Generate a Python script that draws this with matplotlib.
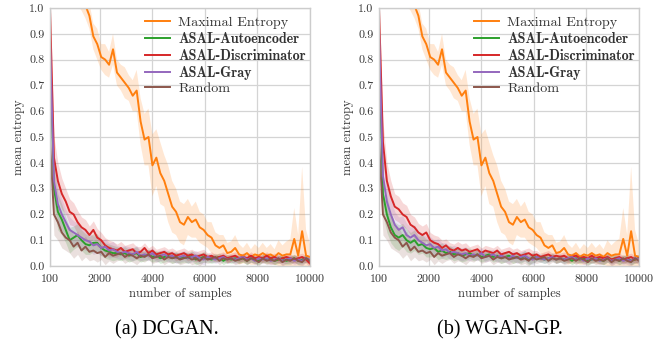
import numpy as np
import matplotlib
matplotlib.use("Agg")
import matplotlib.pyplot as plt

# sample grid: 100, 250, ..., 10000
samples = np.arange(100, 10001, 150)

max_entropy = [1.45, 1.38, 1.32, 1.25, 1.20, 1.15, 1.10, 1.06, 1.04, 1.01,
               0.97, 0.89, 0.86, 0.81, 0.80, 0.78, 0.84, 0.75, 0.73, 0.71,
               0.69, 0.66, 0.68, 0.56, 0.49, 0.50, 0.39, 0.42, 0.36, 0.33,
               0.28, 0.23, 0.21, 0.17, 0.16, 0.19, 0.17, 0.18, 0.15, 0.14,
               0.12, 0.11, 0.08, 0.07, 0.08, 0.05, 0.055, 0.07, 0.045, 0.04,
               0.05, 0.035, 0.045, 0.04, 0.05, 0.04, 0.045, 0.035, 0.05, 0.04,
               0.045, 0.045, 0.105, 0.04, 0.135, 0.04, 0.035]
max_entropy_sd = [0.05, 0.05, 0.05, 0.05, 0.05, 0.05, 0.05, 0.05, 0.05, 0.05,
                  0.05, 0.05, 0.06, 0.05, 0.06, 0.05, 0.06, 0.05, 0.05, 0.06,
                  0.05, 0.06, 0.08, 0.09, 0.10, 0.11, 0.12, 0.11, 0.12, 0.10,
                  0.11, 0.10, 0.09, 0.08, 0.08, 0.07, 0.06, 0.07, 0.06, 0.06,
                  0.05, 0.06, 0.05, 0.05, 0.04, 0.04, 0.04, 0.05, 0.04, 0.03,
                  0.04, 0.03, 0.04, 0.03, 0.04, 0.03, 0.04, 0.03, 0.05, 0.04,
                  0.05, 0.06, 0.12, 0.08, 0.25, 0.10, 0.05]
random_sel = [0.48, 0.20, 0.17, 0.13, 0.11, 0.10, 0.075, 0.09, 0.06, 0.075,
              0.055, 0.06, 0.05, 0.055, 0.035, 0.05, 0.04, 0.045, 0.05, 0.035,
              0.045, 0.04, 0.03, 0.04, 0.035, 0.045, 0.03, 0.035, 0.04, 0.025,
              0.035, 0.03, 0.035, 0.025, 0.03, 0.035, 0.025, 0.03, 0.02, 0.035,
              0.025, 0.03, 0.035, 0.02, 0.03, 0.025, 0.03, 0.02, 0.025, 0.03,
              0.02, 0.03, 0.025, 0.015, 0.03, 0.02, 0.025, 0.02, 0.03, 0.015,
              0.025, 0.02, 0.03, 0.02, 0.015, 0.03, 0.02]
low_sd = [0.06, 0.08, 0.07, 0.06, 0.05, 0.05, 0.045, 0.045, 0.04, 0.04,
          0.035, 0.035, 0.035, 0.03, 0.03, 0.03, 0.03, 0.025, 0.025, 0.025,
          0.025, 0.025, 0.025, 0.02, 0.02, 0.02, 0.02, 0.02, 0.02, 0.02,
          0.02, 0.02, 0.02, 0.02, 0.02, 0.02, 0.02, 0.02, 0.02, 0.02,
          0.015, 0.015, 0.015, 0.015, 0.015, 0.015, 0.015, 0.015, 0.015, 0.015,
          0.015, 0.015, 0.015, 0.015, 0.015, 0.015, 0.015, 0.015, 0.015, 0.015,
          0.015, 0.015, 0.015, 0.015, 0.015, 0.015, 0.015]

dcgan_ae = [0.85, 0.30, 0.21, 0.18, 0.14, 0.10, 0.11, 0.12, 0.10, 0.085,
            0.08, 0.09, 0.09, 0.07, 0.06, 0.055, 0.05, 0.05, 0.045, 0.05,
            0.04, 0.045, 0.05, 0.035, 0.04, 0.045, 0.035, 0.04, 0.03, 0.035,
            0.04, 0.03, 0.035, 0.03, 0.035, 0.03, 0.04, 0.025, 0.03, 0.035,
            0.03, 0.025, 0.03, 0.035, 0.02, 0.03, 0.025, 0.03, 0.025, 0.03,
            0.02, 0.03, 0.025, 0.02, 0.03, 0.025, 0.03, 0.02, 0.025, 0.03,
            0.02, 0.025, 0.03, 0.02, 0.025, 0.03, 0.02]
dcgan_disc = [1.00, 0.42, 0.33, 0.28, 0.25, 0.21, 0.20, 0.17, 0.15, 0.14,
              0.12, 0.14, 0.11, 0.10, 0.08, 0.07, 0.065, 0.06, 0.07, 0.055,
              0.06, 0.065, 0.05, 0.055, 0.07, 0.05, 0.06, 0.045, 0.05, 0.055,
              0.045, 0.05, 0.04, 0.045, 0.05, 0.04, 0.045, 0.035, 0.04, 0.045,
              0.035, 0.04, 0.03, 0.035, 0.04, 0.03, 0.035, 0.04, 0.03, 0.035,
              0.03, 0.04, 0.03, 0.035, 0.03, 0.04, 0.03, 0.035, 0.025, 0.03,
              0.035, 0.03, 0.025, 0.03, 0.035, 0.025, 0.01]
dcgan_gray = [0.87, 0.33, 0.24, 0.20, 0.17, 0.14, 0.13, 0.12, 0.11, 0.10,
              0.095, 0.08, 0.085, 0.07, 0.075, 0.06, 0.065, 0.055, 0.05, 0.055,
              0.05, 0.045, 0.055, 0.04, 0.045, 0.04, 0.05, 0.035, 0.04, 0.045,
              0.035, 0.04, 0.03, 0.035, 0.04, 0.03, 0.035, 0.04, 0.03, 0.025,
              0.035, 0.03, 0.025, 0.03, 0.035, 0.025, 0.03, 0.025, 0.03, 0.035,
              0.025, 0.03, 0.02, 0.03, 0.025, 0.03, 0.02, 0.025, 0.03, 0.02,
              0.025, 0.03, 0.02, 0.025, 0.02, 0.03, 0.025]

wgan_ae = [0.85, 0.28, 0.20, 0.15, 0.12, 0.11, 0.12, 0.10, 0.09, 0.10,
           0.08, 0.085, 0.07, 0.065, 0.07, 0.055, 0.06, 0.05, 0.055, 0.045,
           0.05, 0.04, 0.045, 0.05, 0.04, 0.045, 0.035, 0.04, 0.045, 0.035,
           0.04, 0.03, 0.035, 0.04, 0.03, 0.035, 0.03, 0.04, 0.025, 0.03,
           0.035, 0.03, 0.025, 0.03, 0.035, 0.025, 0.03, 0.025, 0.03, 0.02,
           0.03, 0.025, 0.03, 0.02, 0.025, 0.03, 0.025, 0.02, 0.03, 0.025,
           0.03, 0.02, 0.025, 0.03, 0.02, 0.025, 0.03]
wgan_disc = [1.00, 0.48, 0.33, 0.27, 0.23, 0.22, 0.20, 0.19, 0.16, 0.15,
             0.13, 0.12, 0.13, 0.10, 0.09, 0.085, 0.07, 0.08, 0.065, 0.06,
             0.07, 0.06, 0.065, 0.055, 0.06, 0.065, 0.05, 0.06, 0.055, 0.05,
             0.06, 0.045, 0.05, 0.055, 0.045, 0.05, 0.04, 0.045, 0.05, 0.04,
             0.045, 0.035, 0.04, 0.045, 0.035, 0.04, 0.035, 0.04, 0.03, 0.035,
             0.04, 0.03, 0.035, 0.03, 0.04, 0.03, 0.035, 0.03, 0.035, 0.025,
             0.03, 0.035, 0.025, 0.03, 0.035, 0.025, 0.03]
wgan_gray = [0.91, 0.35, 0.25, 0.20, 0.16, 0.14, 0.15, 0.12, 0.11, 0.12,
             0.10, 0.09, 0.08, 0.085, 0.07, 0.075, 0.06, 0.065, 0.05, 0.055,
             0.05, 0.045, 0.05, 0.04, 0.045, 0.04, 0.05, 0.035, 0.04, 0.045,
             0.035, 0.04, 0.035, 0.03, 0.04, 0.03, 0.035, 0.04, 0.03, 0.025,
             0.035, 0.03, 0.025, 0.03, 0.035, 0.025, 0.03, 0.025, 0.03, 0.035,
             0.025, 0.03, 0.02, 0.03, 0.025, 0.03, 0.02, 0.025, 0.03, 0.02,
             0.025, 0.03, 0.02, 0.025, 0.02, 0.03, 0.025]

x_ticks = [100, 2000, 4000, 6000, 8000, 10000]
y_ticks = [0.0, 0.1, 0.2, 0.3, 0.4, 0.5, 0.6, 0.7, 0.8, 0.9, 1.0]
captions = ["(a) DCGAN.", "(b) WGAN-GP."]

plt.rcParams['font.family'] = 'cmr10'
plt.rcParams['axes.formatter.use_mathtext'] = True
plt.rcParams['axes.unicode_minus'] = False

colors = {'max': '#ff7f0e', 'ae': '#2ca02c', 'disc': '#d62728',
          'gray': '#9467bd', 'rand': '#8c564b'}


def draw_panel(ax, ae, disc, gray):
    series = [
        ("Maximal Entropy", max_entropy, max_entropy_sd, colors['max'], False),
        ("ASAL-Autoencoder", ae, low_sd, colors['ae'], True),
        ("ASAL-Discriminator", disc, low_sd, colors['disc'], True),
        ("ASAL-Gray", gray, low_sd, colors['gray'], True),
        ("Random", random_sel, low_sd, colors['rand'], False),
    ]
    for label, vals, sd, col, bold in series:
        v = np.array(vals)
        s = np.array(sd)
        ax.fill_between(samples, v - s, v + s, color=col, alpha=0.18, lw=0)
    for label, vals, sd, col, bold in series:
        ax.plot(samples, vals, color=col, lw=1.4, label=label)
    ax.set_xlim(100, 10000)
    ax.set_ylim(0, 1)
    ax.set_xticks(x_ticks)
    ax.set_yticks(y_ticks)
    ax.set_yticklabels([f"{t:.1f}" for t in y_ticks])
    ax.tick_params(labelsize=8.6, colors='#333333', length=0, pad=4)
    ax.grid(True, color='#d4d4d4', lw=0.9)
    ax.set_axisbelow(True)
    for sp in ax.spines.values():
        sp.set_color('#cccccc')
        sp.set_linewidth(1.0)
    ax.set_xlabel("number of samples", fontsize=9, color='#333333', labelpad=3)
    ax.set_ylabel("mean entropy", fontsize=9, color='#333333', labelpad=3)
    leg = ax.legend(loc='upper left', frameon=False, fontsize=10.2,
                    handlelength=1.8, handletextpad=0.55, labelspacing=0.2,
                    borderpad=0.4, borderaxespad=0,
                    bbox_to_anchor=(0.343, 0.99))
    for txt, s in zip(leg.get_texts(), series):
        txt.set_color('#333333')
        if s[4]:
            txt.set_fontfamily('cmb10')


fig = plt.figure(figsize=(6.54, 3.43), dpi=100)
ax1 = fig.add_axes([50 / 654, 77 / 343, 260 / 654, 258 / 343])
ax2 = fig.add_axes([379 / 654, 77 / 343, 260 / 654, 258 / 343])
draw_panel(ax1, dcgan_ae, dcgan_disc, dcgan_gray)
draw_panel(ax2, wgan_ae, wgan_disc, wgan_gray)

fig.text(167 / 654, 1 - 330 / 343, captions[0], ha='center', va='center',
         fontsize=14.5, family='Liberation Serif')
fig.text(500 / 654, 1 - 330 / 343, captions[1], ha='center', va='center',
         fontsize=14.5, family='Liberation Serif')

fig.savefig("out.png", dpi=100)
